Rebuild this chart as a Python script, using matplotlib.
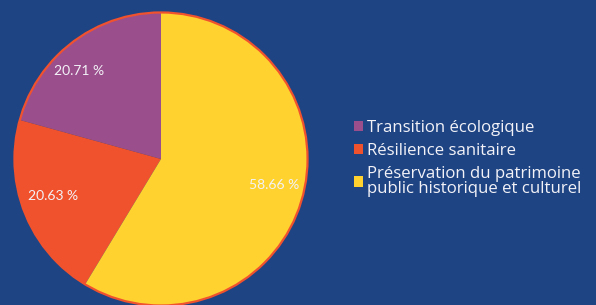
import matplotlib.pyplot as plt
from matplotlib.patches import Circle

# Donnees
categories = ['Transition écologique', 'Résilience sanitaire',
              'Préservation du patrimoine\npublic historique et culturel']
parts = [20.71, 20.63, 58.66]
couleurs = ['#9b4e8c', '#f0522e', '#ffd22f']

fond = '#1e4484'
texte = '#f2f2f7'

fig = plt.figure(figsize=(5.96, 3.05), dpi=100, facecolor=fond)
ax = fig.add_axes([13 / 596, -2 / 305, 296 / 596, 296 / 305])
ax.set_facecolor(fond)

wedges, labels, pcts = ax.pie(parts, colors=couleurs, startangle=90,
                              counterclock=True, radius=1,
                              autopct=lambda p: f'{p:.2f} %',
                              pctdistance=0.8,
                              textprops={'color': texte, 'fontsize': 10,
                                         'family': 'Lato'})
# position des etiquettes
pcts[0].set_position((-0.56, 0.60))
pcts[1].set_position((-0.74, -0.25))
pcts[2].set_position((0.77, -0.18))

# contour
ax.add_patch(Circle((0, 0), 1, fill=False, edgecolor='#f0522e', lw=1.6))
ax.set_xlim(-1.01, 1.01)
ax.set_ylim(-1.01, 1.01)
ax.axis('off')

leg = fig.legend(wedges, categories, loc='upper left',
                 bbox_to_anchor=(339 / 596, 1 - 105 / 305),
                 frameon=False, prop={'family': 'Open Sans', 'size': 12.1},
                 labelcolor=texte, handlelength=0.55, handleheight=0.55,
                 handletextpad=0.2, labelspacing=0.4)
for t in leg.get_texts():
    t.set_linespacing(0.98)

fig.savefig('out.png', dpi=100, facecolor=fond)
